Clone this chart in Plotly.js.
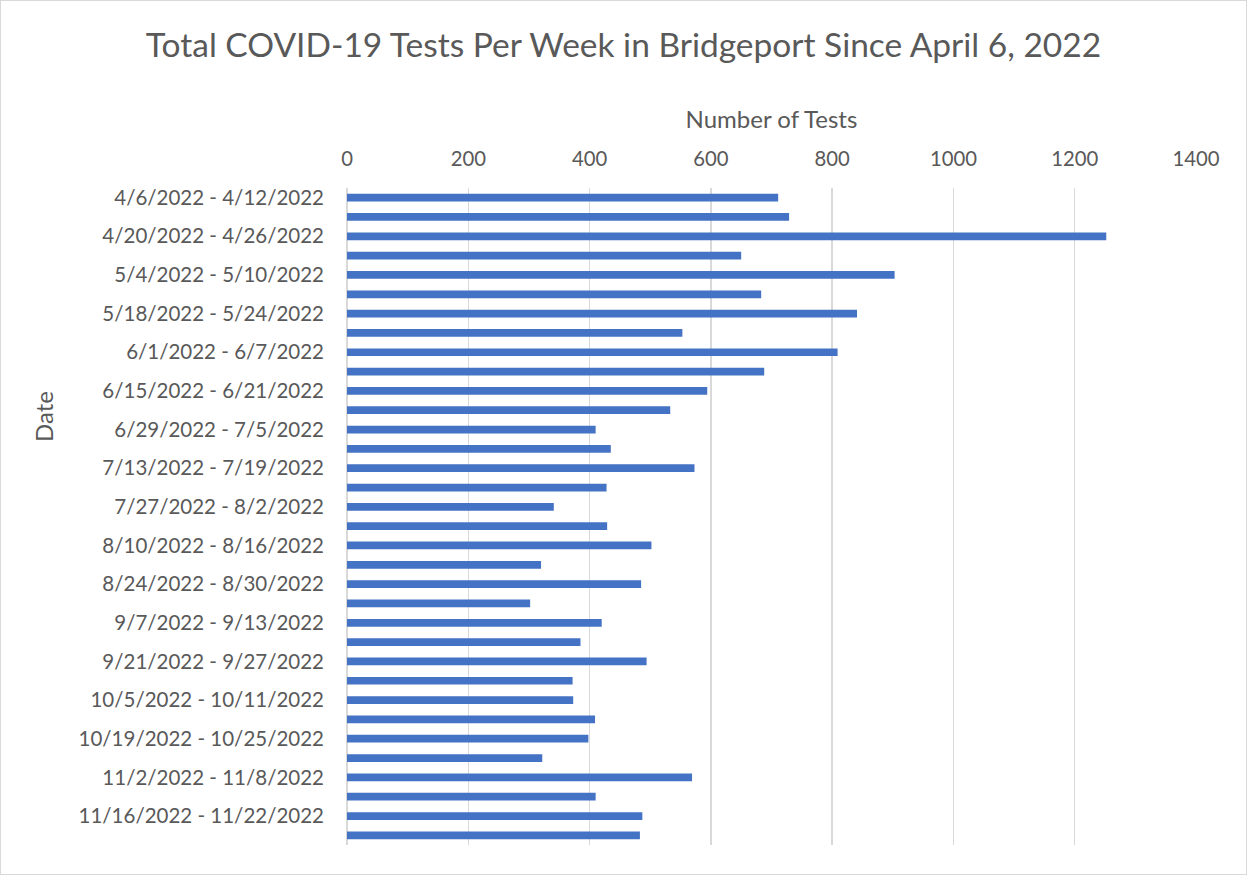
<!DOCTYPE html>
<html>
<head>
<meta charset="utf-8">
<script src="https://cdn.plot.ly/plotly-3.0.1.min.js"></script>
<style>
html,body{margin:0;padding:0;background:#fff;}
#chart{width:1247px;height:875px;position:relative;}
#frame{position:absolute;left:0;top:0;width:1245px;height:873px;border:1px solid #d9d9d9;pointer-events:none;}
</style>
</head>
<body>
<div id="chart"></div>
<div id="frame"></div>
<script>
const weeks = [
  "4/6/2022 - 4/12/2022","4/13/2022 - 4/19/2022","4/20/2022 - 4/26/2022","4/27/2022 - 5/3/2022",
  "5/4/2022 - 5/10/2022","5/11/2022 - 5/17/2022","5/18/2022 - 5/24/2022","5/25/2022 - 5/31/2022",
  "6/1/2022 - 6/7/2022","6/8/2022 - 6/14/2022","6/15/2022 - 6/21/2022","6/22/2022 - 6/28/2022",
  "6/29/2022 - 7/5/2022","7/6/2022 - 7/12/2022","7/13/2022 - 7/19/2022","7/20/2022 - 7/26/2022",
  "7/27/2022 - 8/2/2022","8/3/2022 - 8/9/2022","8/10/2022 - 8/16/2022","8/17/2022 - 8/23/2022",
  "8/24/2022 - 8/30/2022","8/31/2022 - 9/6/2022","9/7/2022 - 9/13/2022","9/14/2022 - 9/20/2022",
  "9/21/2022 - 9/27/2022","9/28/2022 - 10/4/2022","10/5/2022 - 10/11/2022","10/12/2022 - 10/18/2022",
  "10/19/2022 - 10/25/2022","10/26/2022 - 11/1/2022","11/2/2022 - 11/8/2022","11/9/2022 - 11/15/2022",
  "11/16/2022 - 11/22/2022","11/23/2022 - 11/29/2022"
];
const tests = [
  711, 729, 1252, 650, 903, 683, 841, 553, 809, 688,
  594, 533, 410, 435, 573, 428, 341, 429, 502, 320,
  485, 302, 420, 385, 494, 372, 373, 409, 398, 322,
  569, 410, 487, 483
];
const shownLabels = weeks.filter((w, i) => i % 2 === 0);
const xTicks = [0, 200, 400, 600, 800, 1000, 1200, 1400];

const FONT = "Lato, 'Open Sans', sans-serif";
const GREY = "#595959";

const trace = {
  type: "bar",
  orientation: "h",
  x: tests,
  y: weeks,
  width: 0.4,
  marker: {color: "#4472C4"},
  hoverinfo: "x+y"
};

const PW = 1247 - 347 - 51;
const PH = 875 - 188 - 30;

const layout = {
  width: 1247,
  height: 875,
  margin: {l: 347, r: 51, t: 188, b: 30},
  paper_bgcolor: "#ffffff",
  plot_bgcolor: "#ffffff",
  showlegend: false,
  font: {family: FONT, color: GREY, size: 20},
  title: {
    text: "Total COVID-19 Tests Per Week in Bridgeport Since April 6, 2022",
    font: {family: FONT, size: 33.5, color: GREY},
    x: 0.5, xanchor: "center", y: 0.948, yanchor: "middle"
  },
  xaxis: {
    side: "top",
    range: [0, 1400],
    tickvals: xTicks,
    ticktext: xTicks.map(String),
    showgrid: true,
    gridcolor: "#d9d9d9",
    gridwidth: 1.5,
    zeroline: true,
    zerolinecolor: "#d9d9d9",
    zerolinewidth: 1.5,
    showline: false,
    ticks: "",
    ticklabelstandoff: 17,
    tickfont: {family: FONT, size: 20.3, color: GREY},
    title: {text: "Number of Tests", font: {family: FONT, size: 24, color: GREY}, standoff: 10},
    fixedrange: true
  },
  yaxis: {
    type: "category",
    categoryorder: "array",
    categoryarray: weeks,
    autorange: "reversed",
    tickvals: shownLabels,
    ticktext: shownLabels,
    showgrid: false,
    zeroline: false,
    showline: false,
    ticks: "",
    ticklabelstandoff: 22,
    tickfont: {family: FONT, size: 20.5, color: GREY},
    fixedrange: true
  },
  annotations: [{
    text: "Date",
    xref: "paper", yref: "paper",
    x: (43 - 347) / PW, y: 1 - (417 - 188) / PH,
    xanchor: "center", yanchor: "middle",
    textangle: -90,
    showarrow: false,
    font: {family: FONT, size: 24, color: GREY}
  }]
};

Plotly.newPlot("chart", [trace], layout, {displayModeBar: false, staticPlot: true});
</script>
</body>
</html>
